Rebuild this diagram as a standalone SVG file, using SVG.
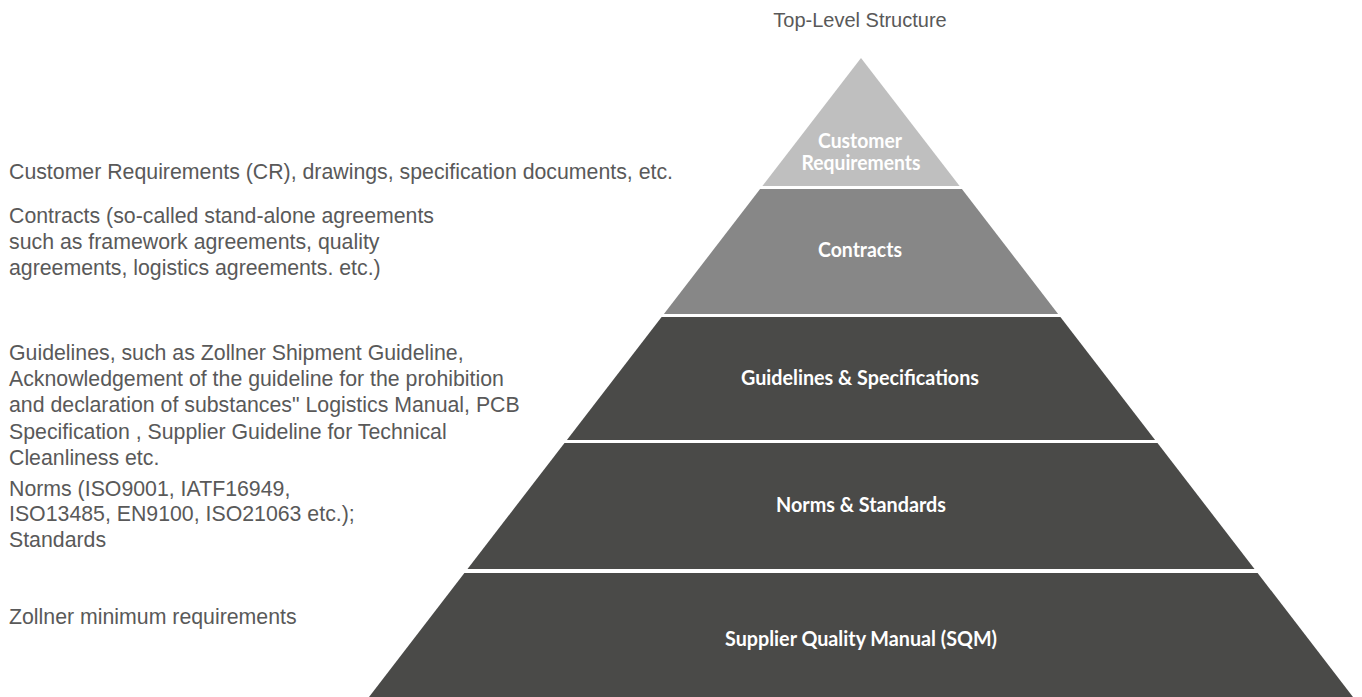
<svg xmlns="http://www.w3.org/2000/svg" width="1362" height="697" viewBox="0 0 1362 697">
<style>
.desc{font-family:"Liberation Sans",Arial,sans-serif;font-size:21.3px;fill:#595959}
.title{font-family:"Liberation Sans",Arial,sans-serif;font-size:20px;fill:#595959}
.lbl{font-family:Lato,"Open Sans",sans-serif;font-weight:bold;font-size:20.5px;fill:#ffffff;text-anchor:middle}
.l1{fill:#bfbfbf}.l2{fill:#878787}.l3{fill:#4a4a48}
</style>
<rect width="1362" height="697" fill="#ffffff"/>
<text class="title" x="860" y="27" text-anchor="middle">Top-Level Structure</text>
<g id="layer-customer">
<polygon class="l1" points="861,58 959.6,186 762.4,186"/>
<text class="lbl" x="860" y="148" textLength="84" lengthAdjust="spacingAndGlyphs">Customer</text>
<text class="lbl" x="861" y="170" textLength="119" lengthAdjust="spacingAndGlyphs">Requirements</text>
</g>
<g id="layer-contracts">
<polygon class="l2" points="760.1,189 961.9,189 1058.1,314 663.9,314"/>
<text class="lbl" x="860" y="257" textLength="84" lengthAdjust="spacingAndGlyphs">Contracts</text>
</g>
<g id="layer-guidelines">
<polygon class="l3" points="661.6,317 1060.4,317 1155.1,440 566.9,440"/>
<text class="lbl" x="860" y="385" textLength="238" lengthAdjust="spacingAndGlyphs">Guidelines &amp; Specifications</text>
</g>
<g id="layer-norms">
<polygon class="l3" points="564.5,443 1157.5,443 1254.5,569 467.5,569"/>
<text class="lbl" x="861" y="512" textLength="170" lengthAdjust="spacingAndGlyphs">Norms &amp; Standards</text>
</g>
<g id="layer-sqm">
<polygon class="l3" points="464.4,573 1257.6,573 1355.3,700 366.7,700"/>
<text class="lbl" x="861" y="646" textLength="272" lengthAdjust="spacingAndGlyphs">Supplier Quality Manual (SQM)</text>
</g>
<g id="connectors"></g>
<g id="descriptions">
<text class="desc" x="9" y="179">Customer Requirements (CR), drawings, specification documents, etc.</text>
<text class="desc" x="9" y="223">Contracts (so-called stand-alone agreements</text>
<text class="desc" x="9" y="248.5">such as framework agreements, quality</text>
<text class="desc" x="9" y="275">agreements, logistics agreements. etc.)</text>
<text class="desc" x="9" y="360">Guidelines, such as Zollner Shipment Guideline,</text>
<text class="desc" x="9" y="386">Acknowledgement of the guideline for the prohibition</text>
<text class="desc" x="9" y="412">and declaration of substances" Logistics Manual, PCB</text>
<text class="desc" x="9" y="439">Specification , Supplier Guideline for Technical</text>
<text class="desc" x="9" y="465">Cleanliness etc.</text>
<text class="desc" x="9" y="496">Norms (ISO9001, IATF16949,</text>
<text class="desc" x="9" y="521">ISO13485, EN9100, ISO21063 etc.);</text>
<text class="desc" x="9" y="547">Standards</text>
<text class="desc" x="9" y="624">Zollner minimum requirements</text>
</g>
</svg>
